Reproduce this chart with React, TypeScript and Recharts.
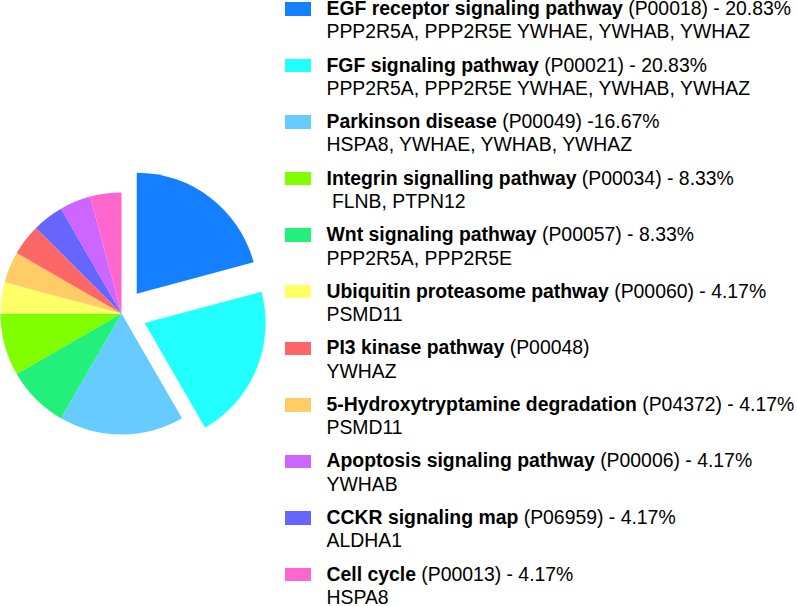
import React from "react";
import { PieChart, Pie, Cell, Legend } from "recharts";

const names = [
  "EGF receptor signaling pathway",
  "FGF signaling pathway",
  "Parkinson disease",
  "Wnt signaling pathway",
  "Integrin signalling pathway",
  "Ubiquitin proteasome pathway",
  "5-Hydroxytryptamine degradation",
  "PI3 kinase pathway",
  "CCKR signaling map",
  "Apoptosis signaling pathway",
  "Cell cycle",
];
const values = [5, 5, 4, 2, 2, 1, 1, 1, 1, 1, 1];
const colors = [
  "#1480FF", "#22FFFF", "#66CCFF", "#22F07A", "#80FF00", "#FFFF66",
  "#FFCC66", "#FF6666", "#6666FF", "#CC66FF", "#FF66CC",
];
const exploded = [0, 1];

// legend (order as in the reference legend)
const legendNames = [
  "EGF receptor signaling pathway",
  "FGF signaling pathway",
  "Parkinson disease",
  "Integrin signalling pathway",
  "Wnt signaling pathway",
  "Ubiquitin proteasome pathway",
  "PI3 kinase pathway",
  "5-Hydroxytryptamine degradation",
  "Apoptosis signaling pathway",
  "CCKR signaling map",
  "Cell cycle",
];
const legendSuffix = [
  " (P00018) - 20.83%",
  " (P00021) - 20.83%",
  " (P00049) -16.67%",
  " (P00034) - 8.33%",
  " (P00057) - 8.33%",
  " (P00060) - 4.17%",
  " (P00048)",
  " (P04372) - 4.17%",
  " (P00006) - 4.17%",
  " (P06959) - 4.17%",
  " (P00013) - 4.17%",
];
const legendGenes = [
  "PPP2R5A, PPP2R5E YWHAE, YWHAB, YWHAZ",
  "PPP2R5A, PPP2R5E YWHAE, YWHAB, YWHAZ",
  "HSPA8, YWHAE, YWHAB, YWHAZ",
  " FLNB, PTPN12",
  "PPP2R5A, PPP2R5E",
  "PSMD11",
  "YWHAZ",
  "PSMD11",
  "YWHAB",
  "ALDHA1",
  "HSPA8",
];

const data = names.map((name, i) => ({ name, value: values[i] }));
const total = values.reduce((a, b) => a + b, 0);

const CX = 121.5;
const CY = 313.5;
const R = 121;
const EXPLODE = 25;

function midAngle(i: number) {
  let cum = 0;
  for (let k = 0; k < i; k++) cum += values[k];
  return 90 - ((cum + values[i] / 2) / total) * 360;
}

const LegendContent = () => (
  <div style={{ position: "relative", width: 512, height: 606, fontFamily: "'Liberation Sans', Arial, sans-serif", color: "#000" }}>
    {legendNames.map((n, i) => {
      const idx = names.indexOf(n);
      const top = i * 56.55;
      return (
        <div key={n} style={{ position: "absolute", left: 0, top, width: 512 }}>
          <div style={{ position: "absolute", left: 0, top: 2.3, width: 26, height: 13.4, background: colors[idx] }} />
          <div style={{ position: "absolute", left: 41.5, top: 0.1, fontSize: 19.4, lineHeight: "17px", whiteSpace: "pre" }}>
            <div><b>{n}</b>{legendSuffix[i]}</div>
            <div style={{ marginTop: 6.3 }}>{legendGenes[i]}</div>
          </div>
        </div>
      );
    })}
  </div>
);

export default function App() {
  const groups = [
    { key: "base", show: (i: number) => !exploded.includes(i), dx: 0, dy: 0 },
    ...exploded.map((e) => {
      const a = (midAngle(e) * Math.PI) / 180;
      return {
        key: "ex" + e,
        show: (i: number) => i === e,
        dx: EXPLODE * Math.cos(a),
        dy: -EXPLODE * Math.sin(a),
      };
    }),
  ];
  return (
    <div style={{ position: "absolute", left: 0, top: 0, width: 797, height: 606, background: "#fff" }}>
      <PieChart width={797} height={606} margin={{ top: 0, right: 0, bottom: 0, left: 0 }}>
        {groups.map((g) => (
          <Pie
            key={g.key}
            data={data}
            dataKey="value"
            nameKey="name"
            cx={CX + g.dx}
            cy={CY + g.dy}
            outerRadius={R}
            innerRadius={0}
            startAngle={90}
            endAngle={-270}
            stroke="none"
            isAnimationActive={false}
            legendType="none"
          >
            {data.map((d, i) => (
              <Cell key={d.name} fill={g.show(i) ? colors[i] : "transparent"} stroke="none" />
            ))}
          </Pie>
        ))}
        <Legend
          layout="vertical"
          align="right"
          verticalAlign="top"
          content={<LegendContent />}
          wrapperStyle={{ left: 285, top: 0, width: 512, height: 606 }}
        />
      </PieChart>
    </div>
  );
}
